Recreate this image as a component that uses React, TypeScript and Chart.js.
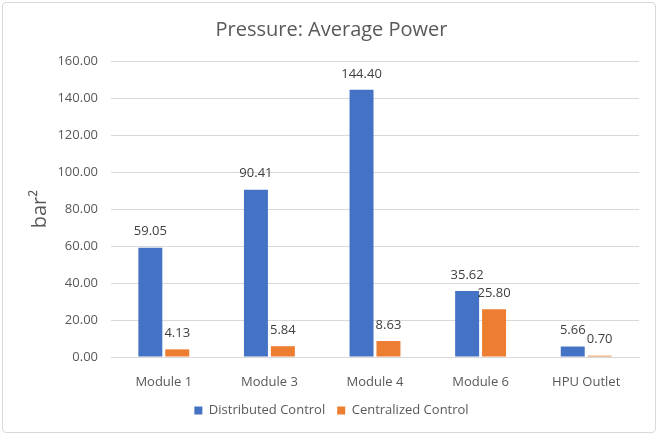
import React, { useEffect, useRef } from "react";
import { Chart, registerables } from "chart.js";

Chart.register(...registerables);

const categories = ["Module 1", "Module 3", "Module 4", "Module 6", "HPU Outlet"];
const distributed = [59.05, 90.41, 144.4, 35.62, 5.66];
const centralized = [4.13, 5.84, 8.63, 25.8, 0.7];
const seriesNames = ["Distributed Control", "Centralized Control"];
const titleText = "Pressure: Average Power";
const yTitle = "bar²";

const FONT = "'Open Sans', 'Noto Sans', sans-serif";

const dataLabels = {
  id: "dataLabels",
  afterDatasetsDraw(chart: any) {
    const ctx = chart.ctx;
    ctx.save();
    ctx.font = `13px ${FONT}`;
    ctx.fillStyle = "#404040";
    ctx.textAlign = "center";
    ctx.textBaseline = "middle";
    chart.data.datasets.forEach((ds: any, i: number) => {
      const meta = chart.getDatasetMeta(i);
      meta.data.forEach((bar: any, j: number) => {
        const v = ds.data[j] as number;
        ctx.fillText(v.toFixed(2), bar.x, bar.y - 16);
      });
    });
    ctx.restore();
  },
};

export default function App() {
  const ref = useRef<HTMLCanvasElement>(null);
  useEffect(() => {
    if (!ref.current) return;
    const chart = new Chart(ref.current, {
      type: "bar",
      data: {
        labels: categories,
        datasets: [
          {
            label: seriesNames[0],
            data: distributed,
            backgroundColor: "#4472C4",
            categoryPercentage: 0.51,
            barPercentage: 0.89,
          },
          {
            label: seriesNames[1],
            data: centralized,
            backgroundColor: "#ED7D31",
            categoryPercentage: 0.51,
            barPercentage: 0.89,
          },
        ],
      },
      options: {
        animation: false,
        responsive: false,
        devicePixelRatio: 1,
        layout: { padding: { left: 24, right: 19, top: 0, bottom: 8 } },
        plugins: {
          title: {
            display: true,
            text: titleText,
            color: "#595959",
            font: { family: FONT, size: 20, weight: "normal" },
            padding: { top: 18, bottom: 19 },
          },
          legend: {
            position: "bottom",
            labels: {
              color: "#595959",
              font: { family: FONT, size: 13 },
              boxWidth: 8,
              boxHeight: 8,
              padding: 12,
            },
          },
          tooltip: { enabled: false },
        },
        scales: {
          x: {
            grid: { display: false, drawTicks: false },
            border: { display: true, color: "#D9D9D9" },
            ticks: {
              color: "#595959",
              font: { family: FONT, size: 13 },
              padding: 17,
            },
            afterFit: (s: any) => {
              s.height = 35;
            },
          },
          y: {
            min: 0,
            max: 160,
            ticks: {
              stepSize: 20,
              color: "#595959",
              font: { family: FONT, size: 13 },
              padding: 13,
              callback: (v: any) => Number(v).toFixed(2),
            },
            grid: { color: "#D9D9D9", drawTicks: false },
            border: { display: false },
            title: {
              display: true,
              text: yTitle,
              color: "#595959",
              font: { family: FONT, size: 20, weight: "normal" },
              padding: { top: 4, bottom: 0 },
            },
            afterFit: (s: any) => {
              s.width = 87;
            },
          },
        },
      },
      plugins: [dataLabels],
    });
    return () => chart.destroy();
  }, []);
  return (
    <div style={{ position: "fixed", left: 0, top: 0, width: 658, height: 435, background: "#fff" }}>
      <canvas ref={ref} width={658} height={435} style={{ display: "block" }} />
      <div
        style={{
          position: "absolute",
          left: 2,
          top: 2,
          width: 652,
          height: 429,
          border: "1px solid #D9D9D9",
          borderRadius: 4,
          pointerEvents: "none",
        }}
      />
    </div>
  );
}
